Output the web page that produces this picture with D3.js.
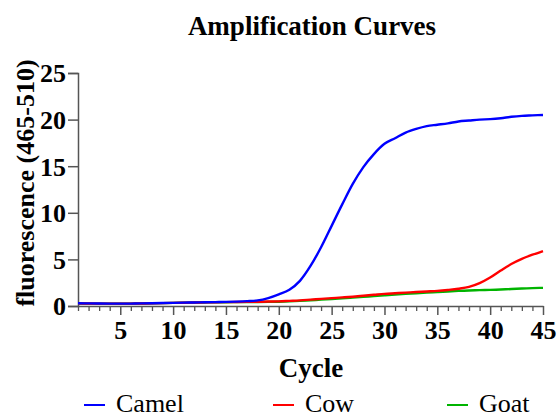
<!DOCTYPE html>
<html><head><meta charset="utf-8">
<script src="https://cdn.jsdelivr.net/npm/d3@7"></script>
<style>body{margin:0;background:#fff}svg{display:block}</style>
</head><body>
<script>
const cycles = d3.range(1, 46);
const camel = [0.30,0.28,0.27,0.26,0.25,0.26,0.28,0.30,0.32,0.34,0.36,0.38,0.40,0.42,0.44,0.47,0.52,0.60,0.85,1.25,1.75,2.7,4.3,6.3,8.6,10.9,13.1,14.9,16.3,17.4,18.0,18.6,19.0,19.3,19.45,19.6,19.8,19.9,20.0,20.05,20.15,20.3,20.4,20.45,20.5];
const cow = [0.28,0.27,0.26,0.25,0.25,0.26,0.27,0.29,0.31,0.33,0.35,0.37,0.39,0.41,0.42,0.43,0.44,0.45,0.48,0.50,0.55,0.60,0.68,0.76,0.84,0.92,1.0,1.1,1.2,1.3,1.37,1.44,1.5,1.56,1.62,1.72,1.85,2.05,2.45,3.05,3.8,4.5,5.05,5.5,5.9];
const goat = [0.27,0.26,0.25,0.25,0.25,0.26,0.27,0.29,0.31,0.33,0.35,0.37,0.38,0.40,0.41,0.42,0.42,0.43,0.44,0.46,0.50,0.55,0.62,0.68,0.75,0.82,0.9,0.98,1.06,1.14,1.22,1.3,1.37,1.44,1.5,1.56,1.62,1.66,1.7,1.73,1.77,1.82,1.87,1.92,1.95];
const seriesNames = ["Camel", "Cow", "Goat"];
const seriesColors = ["#0000ff", "#ff0000", "#00b400"];
const xTicks = [5, 10, 15, 20, 25, 30, 35, 40, 45];
const yTicks = [0, 5, 10, 15, 20, 25];

const W = 559, H = 418;
const L = 78, R = 543, T = 73, B = 306;
const FONT = '"Liberation Serif"';
const svg = d3.select("body").append("svg").attr("width", W).attr("height", H);
const x = d3.scaleLinear().domain([1, 45]).range([L, R]);
const y = d3.scaleLinear().domain([0, 25]).range([B, T]);
const axisColor = "#555";

// title
svg.append("text").attr("x", 312).attr("y", 35).attr("text-anchor", "middle")
  .style("font-family", FONT).style("font-weight", "bold").style("font-size", "27px")
  .text("Amplification Curves");

// y axis
const ya = svg.append("g").attr("transform", `translate(${L},0)`)
  .call(d3.axisLeft(y).tickValues(yTicks).tickSize(10).tickPadding(2).tickFormat(d3.format("d")));
ya.select(".domain").attr("stroke", axisColor).attr("stroke-width", 1.5);
ya.selectAll(".tick line").attr("stroke", axisColor).attr("stroke-width", 1.5);
ya.selectAll("text").style("font-family", FONT).style("font-weight", "bold").style("font-size", "26px").attr("fill", "#000").attr("dy", "0.34em");

// x axis minor
const xm = svg.append("g").attr("transform", `translate(0,${B})`)
  .call(d3.axisBottom(x).tickValues(cycles.filter(c => c % 5 !== 0)).tickSize(5).tickFormat(""));
xm.select(".domain").remove();
xm.selectAll(".tick line").attr("stroke", axisColor).attr("stroke-width", 1.3);
// x axis major
const xa = svg.append("g").attr("transform", `translate(0,${B})`)
  .call(d3.axisBottom(x).tickValues(xTicks).tickSize(9).tickPadding(6).tickSizeOuter(0).tickFormat(d3.format("d")));
xa.select(".domain").attr("stroke", axisColor).attr("stroke-width", 1.5);
xa.selectAll(".tick line").attr("stroke", axisColor).attr("stroke-width", 1.5);
xa.selectAll("text").style("font-family", FONT).style("font-weight", "bold").style("font-size", "26px").attr("fill", "#000");

// axis labels
svg.append("text").attr("x", 311).attr("y", 377).attr("text-anchor", "middle")
  .style("font-family", FONT).style("font-weight", "bold").style("font-size", "27px").text("Cycle");
svg.append("text").attr("transform", "translate(34,183) rotate(-90)").attr("text-anchor", "middle")
  .style("font-family", FONT).style("font-weight", "bold").style("font-size", "26px").text("fluorescence (465-510)");

// lines
const data = [camel, cow, goat];
const line = d3.line().x((d, i) => x(cycles[i])).y(d => y(d)).curve(d3.curveMonotoneX);
[2, 1, 0].forEach(k => {
  svg.append("path").datum(data[k]).attr("d", line).attr("fill", "none")
    .attr("stroke", seriesColors[k]).attr("stroke-width", 2.4).attr("stroke-linejoin", "round");
});

// legend
const legX = [84, 273, 447];
seriesNames.forEach((n, k) => {
  svg.append("line").attr("x1", legX[k]).attr("x2", legX[k] + 21).attr("y1", 405).attr("y2", 405)
    .attr("stroke", seriesColors[k]).attr("stroke-width", 2);
  svg.append("text").attr("x", legX[k] + 32).attr("y", 412)
    .style("font-family", FONT).style("font-size", "26px").text(n);
});
</script>
</body></html>
